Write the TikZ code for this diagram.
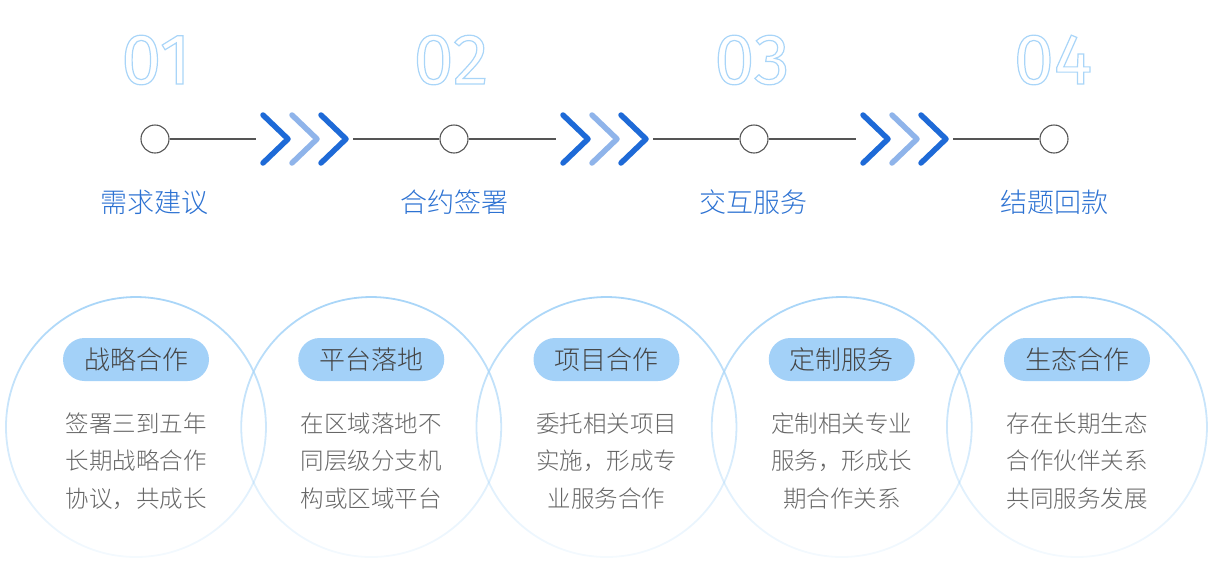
\documentclass[tikz,border=0pt]{standalone}
\usepackage{fontspec}
\setmainfont{Noto Sans CJK SC}[UprightFont=* Light]
\newfontfamily\numfont{Fira Sans}
\usetikzlibrary{fadings}

\definecolor{numblue}{HTML}{A9D5F8}
\definecolor{labelblue}{HTML}{2D72D2}
\definecolor{chevdark}{HTML}{1E6AD7}
\definecolor{chevlight}{HTML}{8FB4EA}
\definecolor{linegray}{HTML}{555555}
\definecolor{pillfill}{HTML}{A3D1F8}
\definecolor{pilltext}{HTML}{444444}
\definecolor{desctext}{HTML}{666666}
\definecolor{ringblue}{HTML}{A8D5F8}

% hollow digits: stroke the glyph outlines only
\newcommand{\hollow}[1]{\special{pdf:literal direct 1 Tr 1.2 w}#1\special{pdf:literal direct 0 Tr}}

\tikzfading[name=ringfade, top color=transparent!0, bottom color=transparent!88]

\tikzset{
  num/.style={inner sep=0pt, text=numblue, font=\numfont\fontsize{72}{72}\selectfont},
  dot/.style={circle, draw=linegray, line width=1.1pt, fill=white, minimum size=28pt, inner sep=0pt},
  link/.style={draw=linegray, line width=1.1pt},
  chevd/.style={draw=chevdark, line width=5.5pt, line cap=round, line join=round},
  chevl/.style={draw=chevlight, line width=5.5pt, line cap=round, line join=round},
  steplabel/.style={inner sep=0pt, text=labelblue, font=\fontsize{27}{27}\selectfont},
  ring/.style={draw=ringblue, line width=1.8pt, path fading=ringfade},
  pill/.style={fill=pillfill, rounded corners=21.5pt, minimum width=146pt, minimum height=43pt, inner sep=0pt, text=pilltext, font=\fontsize{26}{26}\selectfont},
  desc/.style={inner sep=0pt, align=center, text=desctext, font=\fontsize{23.5}{37.5}\selectfont}
}

\begin{document}
\begin{tikzpicture}[x=1pt,y=-1pt]
  \useasboundingbox (0,0) rectangle (1216,563);

  % numbers
  \node[num] (n1) at (156,60) {\hollow{01}};
  \node[num] (n2) at (451,60) {\hollow{02}};
  \node[num] (n3) at (752,60) {\hollow{03}};
  \node[num] (n4) at (1053,60) {\hollow{04}};

  % steps
  \node[dot] (s1) at (155,139) {};
  \node[dot] (s2) at (454,139) {};
  \node[dot] (s3) at (754,139) {};
  \node[dot] (s4) at (1054,139) {};
  \coordinate (a1) at (256,139); \coordinate (b1) at (353,139);
  \coordinate (a2) at (556,139); \coordinate (b2) at (653,139);
  \coordinate (a3) at (856,139); \coordinate (b3) at (953,139);
  \draw[link] (s1) -- (a1);
  \draw[link] (b1) -- (s2);
  \draw[link] (s2) -- (a2);
  \draw[link] (b2) -- (s3);
  \draw[link] (s3) -- (a3);
  \draw[link] (b3) -- (s4);

  % chevrons
  \draw[chevd] (263,115) -- (288,139) -- (263,163);
  \draw[chevl] (292,115) -- (317,139) -- (292,163);
  \draw[chevd] (321,115) -- (346,139) -- (321,163);
  \draw[chevd] (563,115) -- (588,139) -- (563,163);
  \draw[chevl] (592,115) -- (617,139) -- (592,163);
  \draw[chevd] (621,115) -- (646,139) -- (621,163);
  \draw[chevd] (863,115) -- (888,139) -- (863,163);
  \draw[chevl] (892,115) -- (917,139) -- (892,163);
  \draw[chevd] (921,115) -- (946,139) -- (921,163);

  % step labels
  \node[steplabel] (l1) at (154,202) {需求建议};
  \node[steplabel] (l2) at (454,202) {合约签署};
  \node[steplabel] (l3) at (753,202) {交互服务};
  \node[steplabel] (l4) at (1054,202) {结题回款};

  % rings
  \coordinate (c1) at (136,427);
  \coordinate (c2) at (371.25,427);
  \coordinate (c3) at (606.5,427);
  \coordinate (c4) at (841.75,427);
  \coordinate (c5) at (1077,427);
  \draw[ring] (c1) circle (130);
  \draw[ring] (c2) circle (130);
  \draw[ring] (c3) circle (130);
  \draw[ring] (c4) circle (130);
  \draw[ring] (c5) circle (130);

  % pills
  \node[pill] (p1) at (136,359.5) {战略合作};
  \node[pill] (p2) at (371.25,359.5) {平台落地};
  \node[pill] (p3) at (606.5,359.5) {项目合作};
  \node[pill] (p4) at (841.75,359.5) {定制服务};
  \node[pill] (p5) at (1077,359.5) {生态合作};

  % texts
  \node[desc] (d1) at (136,461) {签署三到五年\\长期战略合作\\协议，共成长};
  \node[desc] (d2) at (371.25,461) {在区域落地不\\同层级分支机\\构或区域平台};
  \node[desc] (d3) at (606.5,461) {委托相关项目\\实施，形成专\\业服务合作};
  \node[desc] (d4) at (841.75,461) {定制相关专业\\服务，形成长\\期合作关系};
  \node[desc] (d5) at (1077,461) {存在长期生态\\合作伙伴关系\\共同服务发展};
\end{tikzpicture}
\end{document}
